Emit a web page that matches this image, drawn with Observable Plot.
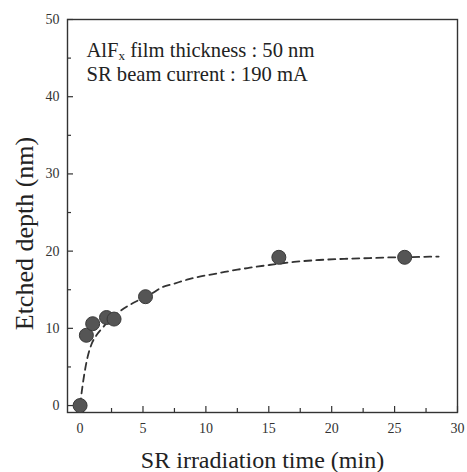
<!DOCTYPE html>
<html><head><meta charset="utf-8">
<script src="https://cdn.jsdelivr.net/npm/d3@7"></script>
<script src="https://cdn.jsdelivr.net/npm/@observablehq/plot@0.6"></script>
<style>
html,body{margin:0;padding:0;background:#fff}
#chart svg, #chart svg text{font-family:"Liberation Serif","Times New Roman",serif !important}
</style>
</head><body><div id="chart"></div>
<script>
// measured points
const timeMin = [0, 0.5, 1.0, 2.1, 2.7, 5.2, 15.8, 25.8];
const depthNm = [0, 9.1, 10.6, 11.4, 11.2, 14.1, 19.2, 19.2];
// dashed fitted curve
const fitTime = [0, 0.15, 0.35, 0.6, 0.9, 1.3, 1.8, 2.4, 3.0, 3.8, 4.6, 5.5, 6.5, 7.5, 8.5, 9.5, 10.5, 11.5, 12.5, 13.5, 15, 17, 19, 21, 23, 25, 27, 28.5];
const fitDepth = [0, 2.0, 4.2, 6.3, 7.9, 9.1, 10.1, 11.2, 12.0, 12.9, 13.6, 14.3, 15.3, 15.8, 16.3, 16.7, 17.0, 17.3, 17.6, 17.85, 18.2, 18.6, 18.85, 19.0, 19.1, 19.2, 19.25, 19.3];
// ticks
const xMajor = [0, 5, 10, 15, 20, 25, 30];
const xMinor = [2.5, 7.5, 12.5, 17.5, 22.5, 27.5];
const yMajor = [0, 10, 20, 30, 40, 50];
const yMinor = [5, 15, 25, 35, 45];
// texts
const notes = ["AlFx film thickness : 50 nm", "SR beam current : 190 mA"];
const xLabel = "SR irradiation time (min)";
const yLabel = "Etched depth (nm)";

const W = 467, H = 472, mL = 67, mR = 10, mT = 19, mB = 60;
const fw = W - mL - mR, fh = H - mT - mB;
const pts = timeMin.map((t, i) => ({t, d: depthNm[i]}));
const fit = fitTime.map((t, i) => ({t, d: fitDepth[i]}));
const ink = "#333";
const serif = "'Liberation Serif', 'Times New Roman', serif";

const svg = Plot.plot({
  width: W, height: H,
  marginLeft: mL, marginRight: mR, marginTop: mT, marginBottom: mB,
  x: {domain: [-1, 30]},
  y: {domain: [-0.9, 50]},
  style: {color: ink, background: "#fff"},
  marks: [
    Plot.axisX(xMajor, {tickSize: 0, tickPadding: 11, fontSize: 14, label: null, fill: ink, fontFamily: serif}),
    Plot.axisY(yMajor, {tickSize: 0, tickPadding: 8, fontSize: 14, label: null, fill: ink, fontFamily: serif}),
    Plot.tickX(xMajor, {x: d => d, insetTop: fh - 6, stroke: ink, strokeWidth: 1.2}),
    Plot.tickX(xMinor, {x: d => d, insetTop: fh - 4, stroke: ink, strokeWidth: 1.2}),
    Plot.tickY(yMajor, {y: d => d, insetRight: fw - 6, stroke: ink, strokeWidth: 1.2}),
    Plot.tickY(yMinor, {y: d => d, insetRight: fw - 4, stroke: ink, strokeWidth: 1.2}),
    Plot.frame({stroke: ink, strokeWidth: 1.4}),
    Plot.line(fit, {x: "t", y: "d", stroke: ink, strokeWidth: 1.8, strokeDasharray: "7,5", curve: "monotone-x"}),
    Plot.dot(pts, {x: "t", y: "d", r: 7, fill: "#555", stroke: "#3a3a3a", strokeWidth: 1}),
    Plot.text([notes[0]], {text: d => d, frameAnchor: "top-left", textAnchor: "start", lineAnchor: "top", dx: 19, dy: 22.5, fontSize: 20.6, fill: "#222", fontFamily: serif}),
    Plot.text([notes[1]], {text: d => d, frameAnchor: "top-left", textAnchor: "start", lineAnchor: "top", dx: 19, dy: 46.5, fontSize: 20.6, fill: "#222", fontFamily: serif}),
    Plot.text([yLabel], {text: d => d, frameAnchor: "left", textAnchor: "middle", lineAnchor: "middle", rotate: -90, dx: -43, dy: 17.5, fontSize: 26, fill: "#222", fontFamily: serif}),
    Plot.text([xLabel], {text: d => d, frameAnchor: "bottom", textAnchor: "middle", lineAnchor: "top", dy: 38, fontSize: 24, fill: "#222", fontFamily: serif})
  ]
});

// subscript x in AlFx
const ns = "http://www.w3.org/2000/svg";
svg.querySelectorAll("text").forEach(t => {
  if (t.textContent === notes[0]) {
    t.textContent = "";
    const a = document.createElementNS(ns, "tspan"); a.textContent = notes[0].slice(0, 3);
    const b = document.createElementNS(ns, "tspan"); b.textContent = notes[0].slice(3, 4);
    b.setAttribute("dy", "3.5"); b.setAttribute("font-size", "13");
    const c = document.createElementNS(ns, "tspan"); c.textContent = notes[0].slice(4);
    c.setAttribute("dy", "-3.5");
    t.append(a, b, c);
  }
});
document.getElementById("chart").append(svg);
</script>
</body></html>
